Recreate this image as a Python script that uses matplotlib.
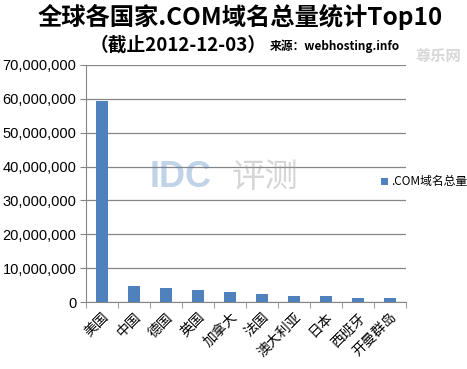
import matplotlib
matplotlib.use("Agg")
import matplotlib.pyplot as plt
from matplotlib.ticker import FuncFormatter, FixedLocator
import numpy as np

plt.rcParams['font.family'] = ['Noto Sans CJK SC', 'DejaVu Sans']

# data
countries = ['美国', '中国', '德国', '英国', '加拿大', '法国', '澳大利亚', '日本', '西班牙', '开曼群岛']
totals = [59500000, 4800000, 4200000, 3600000, 3000000, 2400000, 1800000, 1800000, 1200000, 1150000]
series_name = '.COM域名总量'
y_ticks = [0, 10000000, 20000000, 30000000, 40000000, 50000000, 60000000, 70000000]

fig = plt.figure(figsize=(4.67, 3.69), dpi=100)
ax = fig.add_axes([86 / 467, 1 - 302 / 369, 320 / 467, 237 / 369])

x = np.arange(len(countries))
ax.bar(x, totals, width=0.4, color='#4F81BD', label=series_name, zorder=3)

ax.set_xlim(-0.5, len(countries) - 0.5)
ax.set_ylim(0, 70000000)
ax.set_yticks(y_ticks)
ax.yaxis.set_major_formatter(FuncFormatter(lambda v, p: f'{int(v):,}'))
ax.grid(axis='y', color='#868686', linewidth=0.9, zorder=0)

for s in ['top', 'right']:
    ax.spines[s].set_visible(False)
for s in ['left', 'bottom']:
    ax.spines[s].set_color('#868686')

ax.tick_params(axis='y', length=4, color='#868686', labelsize=10.5, pad=3)
for lab in ax.get_yticklabels():
    lab.set_family(['Liberation Sans', 'DejaVu Sans'])

# category labels at centres, tick marks at boundaries
ax.set_xticks(x)
ax.set_xticklabels(countries, rotation=45, ha='right', rotation_mode='anchor', fontsize=10)
ax.tick_params(axis='x', which='major', length=0, pad=6)
ax.xaxis.set_minor_locator(FixedLocator(np.arange(-0.5, len(countries), 1)))
ax.tick_params(axis='x', which='minor', length=4, color='#868686')

leg = fig.legend(loc='center left', bbox_to_anchor=(370 / 467, 1 - 182 / 369), frameon=False,
                 fontsize=8.5, handlelength=0.6, handleheight=0.6, handletextpad=0.3)

fig.text(0.515, 1 - 17 / 369, '全球各国家.COM域名总量统计Top10', ha='center', va='center',
         fontsize=17.5, fontweight='bold')
fig.text(267 / 467, 1 - 45 / 369, '（截止2012-12-03）', ha='right', va='center',
         fontsize=13.5, fontweight='bold')
fig.text(270 / 467, 1 - 46 / 369, '来源：webhosting.info', ha='left', va='center',
         fontsize=8.5, fontweight='bold')

# faint watermarks
fig.text(150 / 467, 1 - 178 / 369, 'IDC', ha='left', va='center', fontsize=26,
         fontweight='bold', color='#4F81BD', alpha=0.35, family=['Liberation Sans', 'DejaVu Sans'])
fig.text(232 / 467, 1 - 178 / 369, '评测', ha='left', va='center', fontsize=24,
         color='#999999', alpha=0.4)
fig.text(415 / 467, 1 - 56 / 369, '尊乐网', ha='left', va='center', fontsize=11,
         fontweight='bold', color='#B0B0B0', alpha=0.5)

fig.savefig('out.png', dpi=100)
